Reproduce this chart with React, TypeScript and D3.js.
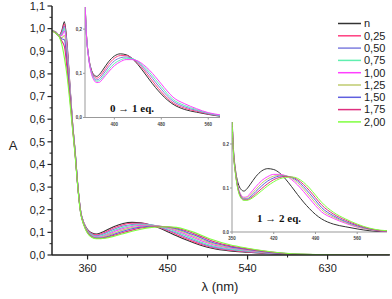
import React from "react";
import * as d3 from "d3";

const wavelengths = [320, 324, 328, 331, 334, 337, 340, 343, 346, 349, 352, 356, 360, 365, 370, 375, 380, 390, 400, 410, 420, 430, 440, 450, 460, 470, 480, 490, 500, 520, 540, 560, 580, 600, 640, 700];

const sN =   [0.99,0.985,0.97,0.99,1.03,0.93,0.76,0.59,0.46,0.31,0.2,0.14,0.112,0.097,0.093,0.098,0.107,0.126,0.139,0.144,0.142,0.134,0.12,0.103,0.085,0.068,0.053,0.04,0.03,0.018,0.012,0.007,0.003,0.001,0,0];
const s025 = [0.99,0.985,0.97,0.985,1.02,0.92,0.755,0.588,0.458,0.31,0.2,0.139,0.11,0.094,0.089,0.093,0.101,0.12,0.134,0.14,0.14,0.134,0.123,0.108,0.091,0.074,0.058,0.044,0.033,0.021,0.014,0.008,0.004,0.001,0,0];
const s050 = [0.99,0.984,0.969,0.98,1.01,0.91,0.75,0.585,0.456,0.308,0.198,0.138,0.108,0.091,0.085,0.088,0.096,0.114,0.128,0.135,0.137,0.134,0.125,0.112,0.097,0.08,0.064,0.049,0.037,0.024,0.016,0.009,0.004,0.002,0,0];
const s075 = [0.99,0.984,0.969,0.975,1.0,0.9,0.745,0.582,0.454,0.306,0.197,0.137,0.106,0.088,0.082,0.084,0.091,0.108,0.122,0.13,0.134,0.133,0.127,0.116,0.102,0.086,0.07,0.054,0.041,0.027,0.018,0.01,0.005,0.002,0,0];
const s100 = [0.99,0.983,0.968,0.97,0.99,0.89,0.74,0.58,0.452,0.305,0.196,0.136,0.104,0.085,0.079,0.08,0.087,0.103,0.117,0.126,0.131,0.131,0.128,0.119,0.107,0.092,0.076,0.06,0.046,0.031,0.02,0.011,0.006,0.002,0.001,0];
const s125 = [0.99,0.983,0.968,0.96,0.97,0.87,0.73,0.577,0.45,0.304,0.195,0.135,0.102,0.083,0.077,0.077,0.083,0.097,0.111,0.121,0.127,0.129,0.128,0.122,0.112,0.098,0.082,0.066,0.051,0.034,0.022,0.012,0.006,0.003,0.001,0];
const s150 = [0.99,0.982,0.967,0.955,0.95,0.85,0.715,0.573,0.447,0.303,0.193,0.133,0.1,0.081,0.075,0.075,0.079,0.092,0.105,0.116,0.123,0.127,0.127,0.124,0.116,0.103,0.088,0.072,0.056,0.037,0.024,0.014,0.007,0.003,0.001,0];
const s175 = [0.99,0.981,0.966,0.945,0.92,0.82,0.7,0.567,0.444,0.302,0.192,0.132,0.098,0.079,0.073,0.073,0.076,0.087,0.099,0.11,0.119,0.124,0.126,0.125,0.119,0.108,0.094,0.078,0.062,0.041,0.027,0.016,0.008,0.003,0.001,0];
const s200 = [0.99,0.98,0.965,0.93,0.87,0.79,0.68,0.56,0.44,0.3,0.19,0.13,0.096,0.077,0.072,0.072,0.074,0.083,0.094,0.105,0.114,0.121,0.124,0.125,0.122,0.113,0.1,0.084,0.068,0.045,0.03,0.018,0.009,0.004,0.001,0];

const seriesLabels = ["n", "0,25", "0,50", "0,75", "1,00", "1,25", "1,50", "1,75", "2,00"];
const seriesColors = ["#333333", "#ff3f80", "#7f7fdf", "#5fefaf", "#ff3fff", "#bfcb6f", "#5f5fdf", "#df2f7f", "#7fff3f"];
const seriesValues = [sN, s025, s050, s075, s100, s125, s150, s175, s200];

const inset1Series = [0, 1, 2, 3, 4];
const inset2Series = [0, 4, 5, 6, 7, 8];

const mainYTicks = [0, 0.1, 0.2, 0.3, 0.4, 0.5, 0.6, 0.7, 0.8, 0.9, 1.0, 1.1];
const mainXTicks = [360, 450, 540, 630];
const mainXMinor = [405, 495, 585, 675];
const inset1XTicks = [400, 480, 560];
const inset2XTicks = [350, 420, 490, 560];
const insetYTicks = [0, 0.1, 0.2];

const fmtComma = (v: number) => v.toFixed(1).replace(".", ",");

export default function App() {
  const W = 392, H = 299;
  const x = d3.scaleLinear().domain([320, 700]).range([52, 389.8]);
  const y = d3.scaleLinear().domain([0, 1.1]).range([255, 6]);

  const x1 = d3.scaleLinear().domain([350, 580]).range([85, 220]);
  const y1 = d3.scaleLinear().domain([0, 0.25]).range([117.5, 7]);
  const x2 = d3.scaleLinear().domain([350, 610]).range([232, 387]);
  const y2 = d3.scaleLinear().domain([0, 0.25]).range([232, 122]);

  const mkLine = (sx: any, sy: any) =>
    d3.line<number>().x((_, i) => sx(wavelengths[i])).y((d) => sy(d)).curve(d3.curveMonotoneX);

  const mainLine = mkLine(x, y);
  const l1 = mkLine(x1, y1);
  const l2 = mkLine(x2, y2);

  const minorY = d3.range(0.05, 1.1, 0.1);
  const font = "Arial, 'Liberation Sans', sans-serif";
  const axisColor = "#222";

  return (
    <svg width={W} height={H} style={{ position: "absolute", left: 0, top: 0, background: "#fff" }} fontFamily={font}>
      <defs>
        <clipPath id="c1"><rect x={85} y={7} width={135} height={110.5} /></clipPath>
        <clipPath id="c2"><rect x={232} y={122} width={155} height={110} /></clipPath>
        <clipPath id="cm"><rect x={52} y={0} width={338} height={255} /></clipPath>
      </defs>

      {/* main curves */}
      <g clipPath="url(#cm)" fill="none">
        {seriesValues.map((s, i) => (
          <path key={i} d={mainLine(s) || ""} stroke={seriesColors[i]} strokeWidth={1.1} />
        ))}
      </g>

      {/* main y axis */}
      <line x1={52} x2={52} y1={y(1.1)} y2={255} stroke={axisColor} strokeWidth={1.5} />
      {mainYTicks.map((t) => (
        <g key={t}>
          <line x1={47.5} x2={52} y1={y(t)} y2={y(t)} stroke={axisColor} strokeWidth={1.2} />
          <text x={45} y={y(t)} dy="0.35em" textAnchor="end" fontSize={11} fill={axisColor}>{fmtComma(t)}</text>
        </g>
      ))}
      {minorY.map((t) => (
        <line key={t} x1={49.5} x2={52} y1={y(t)} y2={y(t)} stroke={axisColor} strokeWidth={1} />
      ))}

      {/* main x axis */}
      <line x1={52} x2={389.8} y1={255} y2={255} stroke={axisColor} strokeWidth={1.5} />
      {mainXTicks.map((t) => (
        <g key={t}>
          <line x1={x(t)} x2={x(t)} y1={255} y2={259.5} stroke={axisColor} strokeWidth={1.2} />
          <text x={x(t)} y={271.5} textAnchor="middle" fontSize={11} fill={axisColor}>{t}</text>
        </g>
      ))}
      {mainXMinor.map((t) => (
        <line key={t} x1={x(t)} x2={x(t)} y1={255} y2={257.5} stroke={axisColor} strokeWidth={1} />
      ))}
      <text x={220} y={291} textAnchor="middle" fontSize={13} fill={axisColor}>λ (nm)</text>
      <text x={13} y={150} textAnchor="middle" fontSize={13} fill={axisColor}>A</text>

      {/* legend */}
      {seriesLabels.map((lab, i) => {
        const ly = 23.5 + i * 12.3;
        return (
          <g key={lab}>
            <line x1={338} x2={361} y1={ly} y2={ly} stroke={seriesColors[i]} strokeWidth={1.5} />
            <text x={364} y={ly} dy="0.35em" fontSize={11} fill={axisColor}>{lab}</text>
          </g>
        );
      })}

      {/* inset 1 */}
      <g>
        <line x1={85} x2={85} y1={7} y2={117.5} stroke="#999" strokeWidth={1} />
        <line x1={85} x2={220} y1={117.5} y2={117.5} stroke="#999" strokeWidth={1} />
        {insetYTicks.map((t) => (
          <g key={t}>
            <line x1={83} x2={85} y1={y1(t)} y2={y1(t)} stroke="#999" />
            <text x={82} y={y1(t)} dy="0.35em" textAnchor="end" fontSize={4.5} fontWeight="bold" fill="#444">{fmtComma(t)}</text>
          </g>
        ))}
        {inset1XTicks.map((t) => (
          <g key={t}>
            <line x1={x1(t)} x2={x1(t)} y1={117.5} y2={119.5} stroke="#999" />
            <text x={x1(t)} y={126} textAnchor="middle" fontSize={4.5} fontWeight="bold" fill="#444">{t}</text>
          </g>
        ))}
        <g clipPath="url(#c1)" fill="none">
          {inset1Series.map((si) => (
            <path key={si} d={l1(seriesValues[si]) || ""} stroke={seriesColors[si]} strokeWidth={1} />
          ))}
        </g>
        <text x={132} y={111.5} textAnchor="middle" fontSize={11} fontWeight="bold" fontFamily="'Liberation Serif', 'DejaVu Serif', serif" fill="#111">0 → 1 eq.</text>
      </g>

      {/* inset 2 */}
      <g>
        <line x1={232} x2={232} y1={122} y2={232} stroke="#999" strokeWidth={1} />
        <line x1={232} x2={387} y1={232} y2={232} stroke="#999" strokeWidth={1} />
        {insetYTicks.map((t) => (
          <g key={t}>
            <line x1={230} x2={232} y1={y2(t)} y2={y2(t)} stroke="#999" />
            <text x={229} y={y2(t)} dy="0.35em" textAnchor="end" fontSize={4.5} fontWeight="bold" fill="#444">{t.toFixed(1)}</text>
          </g>
        ))}
        {inset2XTicks.map((t) => (
          <g key={t}>
            <line x1={x2(t)} x2={x2(t)} y1={232} y2={234} stroke="#999" />
            <text x={x2(t)} y={239.5} textAnchor="middle" fontSize={4.5} fontWeight="bold" fill="#444">{t}</text>
          </g>
        ))}
        <g clipPath="url(#c2)" fill="none">
          {inset2Series.map((si) => (
            <path key={si} d={l2(seriesValues[si]) || ""} stroke={seriesColors[si]} strokeWidth={1} />
          ))}
        </g>
        <text x={279} y={222} textAnchor="middle" fontSize={11} fontWeight="bold" fontFamily="'Liberation Serif', 'DejaVu Serif', serif" fill="#111">1 → 2 eq.</text>
      </g>
    </svg>
  );
}
